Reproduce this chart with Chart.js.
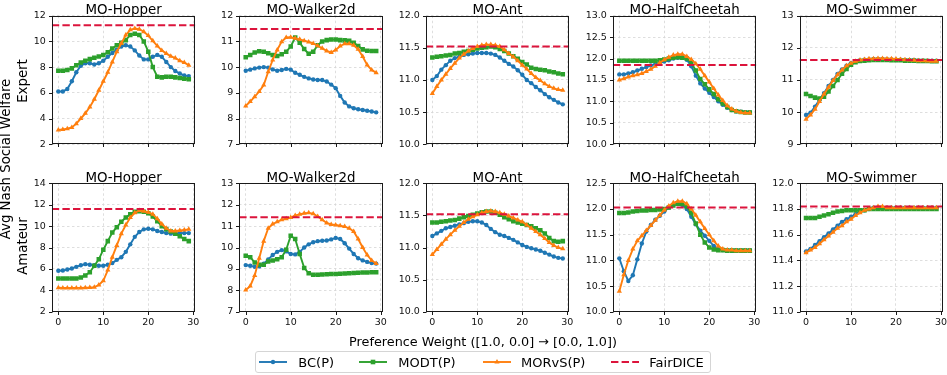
<!DOCTYPE html>
<html><head><meta charset="utf-8">
<script src="https://cdn.jsdelivr.net/npm/chart.js@4/dist/chart.umd.min.js"></script>
<style>
html,body{margin:0;padding:0;background:#fff;}
#fig{position:relative;width:947px;height:375px;overflow:hidden;background:#fff;font-family:"DejaVu Sans",sans-serif;color:#000;}
#fig canvas{position:absolute;}
.lab{position:absolute;white-space:nowrap;}
.rot{transform:translate(-50%,-50%) rotate(-90deg);}
</style></head>
<body><div id="fig"></div>
<script>
// ---------------- data ----------------
const steps = [0,1,2,3,4,5,6,7,8,9,10,11,12,13,14,15,16,17,18,19,20,21,22,23,24,25,26,27,28,29];
const envNames = ['MO-Hopper','MO-Walker2d','MO-Ant','MO-HalfCheetah','MO-Swimmer'];
const rowNames = ['Expert','Amateur'];
const seriesNames = ['BC(P)','MODT(P)','MORvS(P)','FairDICE'];
const xTicks = [0,10,20,30];

// Expert row
const hopperExpertBC    = [6.1,6.1,6.3,6.9,7.6,8.1,8.3,8.3,8.2,8.3,8.5,8.8,9.1,9.35,9.6,9.7,9.6,9.3,8.9,8.6,8.6,8.8,8.95,8.8,8.4,8.0,7.7,7.5,7.35,7.3];
const hopperExpertMODT  = [7.72,7.72,7.78,7.9,8.15,8.35,8.5,8.62,8.72,8.82,8.95,9.15,9.45,9.7,9.9,10.1,10.5,10.6,10.5,10.0,9.2,8.0,7.25,7.2,7.25,7.25,7.2,7.15,7.1,7.05];
const hopperExpertMORvS = [3.1,3.15,3.2,3.3,3.6,4.0,4.4,4.9,5.5,6.2,6.9,7.6,8.4,9.2,9.85,10.5,10.9,11.0,10.95,10.75,10.45,10.05,9.65,9.3,9.05,8.85,8.7,8.5,8.35,8.15];

const walkerExpertBC    = [9.86,9.9,9.95,9.98,10.0,9.98,9.91,9.86,9.89,9.93,9.9,9.78,9.7,9.62,9.56,9.52,9.5,9.5,9.44,9.32,9.18,8.88,8.62,8.47,8.4,8.36,8.33,8.3,8.27,8.24];
const walkerExpertMODT  = [10.38,10.47,10.57,10.62,10.6,10.54,10.47,10.43,10.5,10.6,10.8,11.15,10.95,10.7,10.52,10.6,10.85,11.0,11.05,11.07,11.07,11.05,11.04,11.02,10.95,10.82,10.69,10.64,10.63,10.63];
const walkerExpertMORvS = [8.49,8.66,8.85,9.05,9.3,9.82,10.28,10.67,10.99,11.15,11.16,11.12,11.08,11.03,10.98,10.92,10.83,10.73,10.63,10.57,10.67,10.82,10.91,10.91,10.85,10.69,10.41,10.08,9.89,9.78];

const antExpertBC    = [11.0,11.06,11.16,11.23,11.3,11.34,11.36,11.39,11.4,11.41,11.42,11.42,11.42,11.41,11.39,11.35,11.3,11.25,11.21,11.15,11.08,11.0,10.95,10.89,10.84,10.78,10.73,10.69,10.65,10.62];
const antExpertMODT  = [11.35,11.36,11.37,11.38,11.39,11.41,11.42,11.44,11.45,11.47,11.49,11.5,11.51,11.52,11.51,11.48,11.45,11.41,11.37,11.33,11.28,11.24,11.19,11.17,11.16,11.15,11.13,11.12,11.1,11.09];
const antExpertMORvS = [10.79,10.9,11.0,11.09,11.18,11.26,11.34,11.4,11.45,11.49,11.52,11.54,11.55,11.55,11.54,11.52,11.47,11.41,11.36,11.3,11.23,11.17,11.1,11.04,10.99,10.94,10.9,10.87,10.85,10.84];

const cheetahExpertBC    = [11.63,11.63,11.65,11.68,11.72,11.76,11.8,11.84,11.87,11.9,11.93,11.96,12.0,12.02,12.03,11.97,11.82,11.6,11.42,11.3,11.2,11.1,11.0,10.92,10.85,10.8,10.77,10.76,10.75,10.75];
const cheetahExpertMODT  = [11.95,11.95,11.95,11.95,11.95,11.95,11.95,11.95,11.95,11.96,11.98,12.0,12.02,12.03,12.02,12.0,11.9,11.72,11.52,11.4,11.28,11.17,11.05,10.95,10.87,10.8,10.77,10.75,10.74,10.74];
const cheetahExpertMORvS = [11.5,11.53,11.57,11.6,11.62,11.65,11.7,11.75,11.82,11.9,11.97,12.03,12.08,12.1,12.1,12.05,11.98,11.88,11.75,11.6,11.45,11.3,11.15,11.02,10.9,10.82,10.77,10.74,10.73,10.73];

const swimmerExpertBC    = [9.91,9.98,10.17,10.38,10.59,10.81,11.0,11.19,11.33,11.44,11.52,11.57,11.61,11.63,11.64,11.65,11.65,11.65,11.64,11.64,11.63,11.63,11.62,11.62,11.62,11.61,11.61,11.6,11.6,11.6];
const swimmerExpertMODT  = [10.56,10.5,10.45,10.42,10.48,10.64,10.81,11.0,11.19,11.34,11.47,11.55,11.59,11.6,11.61,11.62,11.62,11.62,11.62,11.61,11.61,11.61,11.6,11.6,11.6,11.59,11.59,11.59,11.58,11.58];
const swimmerExpertMORvS = [9.78,9.91,10.09,10.33,10.56,10.77,10.98,11.16,11.31,11.44,11.52,11.58,11.62,11.64,11.66,11.66,11.67,11.67,11.66,11.66,11.65,11.64,11.63,11.62,11.61,11.6,11.6,11.59,11.58,11.58];

// Amateur row
const hopperAmateurBC    = [5.84,5.85,5.95,6.05,6.2,6.35,6.45,6.4,6.35,6.3,6.3,6.4,6.55,6.85,7.1,7.6,8.3,9.0,9.45,9.7,9.75,9.7,9.55,9.45,9.35,9.3,9.3,9.35,9.35,9.35];
const hopperAmateurMODT  = [5.1,5.1,5.1,5.1,5.1,5.2,5.4,5.7,6.3,6.9,7.8,8.6,9.4,9.9,10.4,10.8,11.1,11.35,11.4,11.35,11.2,10.9,10.45,10.0,9.7,9.5,9.3,9.05,8.8,8.6];
const hopperAmateurMORvS = [4.25,4.22,4.22,4.22,4.23,4.23,4.25,4.27,4.3,4.5,4.9,5.9,7.1,8.2,9.3,10.1,10.8,11.25,11.45,11.4,11.3,11.1,10.7,10.2,9.8,9.55,9.55,9.6,9.65,9.7];

const walkerAmateurBC    = [9.18,9.15,9.1,9.12,9.25,9.45,9.65,9.8,9.88,9.82,9.7,9.68,9.8,10.0,10.15,10.25,10.3,10.32,10.33,10.38,10.45,10.4,10.2,9.95,9.7,9.5,9.4,9.33,9.28,9.25];
const walkerAmateurMODT  = [9.62,9.55,9.3,9.2,9.2,9.35,9.4,9.45,9.55,9.9,10.55,10.4,9.7,9.05,8.8,8.73,8.73,8.74,8.75,8.76,8.77,8.78,8.79,8.8,8.81,8.82,8.83,8.84,8.85,8.85];
const walkerAmateurMORvS = [8.02,8.2,8.7,9.5,10.3,10.9,11.1,11.2,11.3,11.35,11.4,11.5,11.55,11.6,11.62,11.58,11.45,11.3,11.15,11.08,11.05,11.02,10.98,10.9,10.75,10.4,10.0,9.65,9.4,9.25];

const antAmateurBC    = [11.18,11.22,11.26,11.3,11.32,11.34,11.36,11.38,11.4,11.41,11.41,11.39,11.35,11.29,11.24,11.2,11.18,11.15,11.12,11.08,11.04,11.01,10.99,10.97,10.95,10.92,10.89,10.86,10.84,10.83];
const antAmateurMODT  = [11.39,11.39,11.4,11.41,11.42,11.43,11.45,11.47,11.49,11.51,11.53,11.55,11.56,11.56,11.54,11.51,11.47,11.44,11.41,11.39,11.37,11.35,11.33,11.3,11.27,11.22,11.15,11.1,11.09,11.1];
const antAmateurMORvS = [10.89,10.97,11.05,11.13,11.2,11.27,11.33,11.39,11.44,11.48,11.51,11.54,11.56,11.57,11.56,11.54,11.52,11.49,11.46,11.43,11.4,11.35,11.3,11.25,11.2,11.14,11.08,11.03,11.0,10.98];

const cheetahAmateurBC    = [11.04,10.79,10.6,10.71,11.02,11.33,11.56,11.69,11.79,11.87,11.95,12.03,12.08,12.1,12.08,12.0,11.85,11.7,11.58,11.48,11.38,11.28,11.22,11.2,11.2,11.2,11.2,11.2,11.2,11.2];
const cheetahAmateurMODT  = [11.92,11.92,11.93,11.95,11.96,11.97,11.97,11.98,11.98,11.99,12.0,12.03,12.07,12.1,12.1,12.05,11.92,11.72,11.5,11.35,11.25,11.21,11.2,11.2,11.19,11.19,11.19,11.19,11.19,11.19];
const cheetahAmateurMORvS = [10.4,10.72,11.0,11.22,11.38,11.48,11.58,11.68,11.78,11.88,11.98,12.06,12.12,12.15,12.15,12.1,12.0,11.88,11.75,11.62,11.5,11.38,11.28,11.22,11.2,11.2,11.19,11.19,11.19,11.19];

const swimmerAmateurBC    = [11.47,11.49,11.52,11.55,11.58,11.61,11.64,11.67,11.7,11.72,11.74,11.76,11.78,11.79,11.8,11.81,11.81,11.81,11.81,11.81,11.81,11.81,11.81,11.81,11.81,11.81,11.81,11.81,11.81,11.81];
const swimmerAmateurMODT  = [11.73,11.73,11.73,11.74,11.75,11.76,11.77,11.78,11.785,11.79,11.79,11.79,11.79,11.79,11.8,11.8,11.8,11.8,11.8,11.8,11.8,11.8,11.8,11.8,11.8,11.8,11.8,11.8,11.8,11.8];
const swimmerAmateurMORvS = [11.46,11.48,11.5,11.53,11.56,11.59,11.62,11.65,11.67,11.7,11.72,11.75,11.77,11.79,11.8,11.81,11.82,11.82,11.81,11.81,11.81,11.81,11.81,11.81,11.81,11.81,11.81,11.81,11.81,11.81];

const fairdiceExpert  = [11.25, 11.48, 11.52, 11.85, 11.62];
const fairdiceAmateur = [11.6, 11.42, 11.52, 12.03, 11.82];

const yTicksExpert  = [[2,4,6,8,10,12],[7,8,9,10,11,12],[10,10.5,11,11.5,12],[10,10.5,11,11.5,12,12.5,13],[9,10,11,12,13]];
const yTicksAmateur = [[2,4,6,8,10,12,14],[7,8,9,10,11,12,13],[10,10.5,11,11.5,12],[10,10.5,11,11.5,12,12.5],[11,11.2,11.4,11.6,11.8,12]];

// ---------------- layout & style ----------------
const BLUE='#1f77b4', GREEN='#2ca02c', ORANGE='#ff7f0e', RED='#dc143c';
const PLOT_LEFT = [51.8, 239.2, 425.8, 612.8, 799.5];
const PLOT_W = 143.5, PLOT_H = 128.5;
const PLOT_TOP = [15.7, 183.3];
const CANVAS_TOP = [-12, 150];
const X_MIN = -1.45, X_MAX = 30.45;
const TITLE_SIZE = 13.4, TITLE_LH = 0.72, TITLE_PAD_T = 4, TITLE_PAD_B = 0;
const XAX_H = 20;
const TICK_SIZE = 9.5;

Chart.defaults.font.family = '"DejaVu Sans", sans-serif';
Chart.defaults.color = '#111';

const framePlugin = {
  id: 'frame',
  afterDraw(chart) {
    const {ctx, chartArea: a, scales} = chart;
    ctx.save();
    ctx.setLineDash([]);
    ctx.strokeStyle = '#1a1a1a';
    ctx.lineWidth = 1;
    const l = Math.round(a.left) + 0.5, r = Math.round(a.right) - 0.5;
    const t = Math.round(a.top) + 0.5, b = Math.round(a.bottom) - 0.5;
    ctx.strokeRect(l, t, r - l, b - t);
    ctx.beginPath();
    scales.x.ticks.forEach(tk => { const p = Math.round(scales.x.getPixelForValue(tk.value)) + 0.5; ctx.moveTo(p, b); ctx.lineTo(p, b + 3.5); });
    scales.y.ticks.forEach(tk => { const p = Math.round(scales.y.getPixelForValue(tk.value)) + 0.5; ctx.moveTo(l, p); ctx.lineTo(l - 3.5, p); });
    ctx.stroke();
    ctx.restore();
  }
};

const fig = document.getElementById('fig');
const toXY = arr => arr.map((v, i) => ({x: steps[i], y: v}));

const grid = [
  [[hopperExpertBC,hopperExpertMODT,hopperExpertMORvS],[walkerExpertBC,walkerExpertMODT,walkerExpertMORvS],[antExpertBC,antExpertMODT,antExpertMORvS],[cheetahExpertBC,cheetahExpertMODT,cheetahExpertMORvS],[swimmerExpertBC,swimmerExpertMODT,swimmerExpertMORvS]],
  [[hopperAmateurBC,hopperAmateurMODT,hopperAmateurMORvS],[walkerAmateurBC,walkerAmateurMODT,walkerAmateurMORvS],[antAmateurBC,antAmateurMODT,antAmateurMORvS],[cheetahAmateurBC,cheetahAmateurMODT,cheetahAmateurMORvS],[swimmerAmateurBC,swimmerAmateurMODT,swimmerAmateurMORvS]]
];
const fair = [fairdiceExpert, fairdiceAmateur];
const yTicks = [yTicksExpert, yTicksAmateur];

for (let r = 0; r < 2; r++) {
  for (let c = 0; c < 5; c++) {
    const pl = PLOT_LEFT[c];
    const CL = Math.floor(pl - 45);
    const yAxisW = pl - CL;
    const W = Math.ceil(pl + PLOT_W + 12) - CL;
    const padR = CL + W - (pl + PLOT_W);
    const CT = CANVAS_TOP[r];
    const H = 190;
    const padT = PLOT_TOP[r] - CT - (TITLE_SIZE * TITLE_LH + TITLE_PAD_T + TITLE_PAD_B);
    const padB = H - XAX_H - (PLOT_TOP[r] + PLOT_H - CT);
    const cv = document.createElement('canvas');
    cv.width = W; cv.height = H;
    cv.style.left = CL + 'px'; cv.style.top = CT + 'px';
    cv.style.width = W + 'px'; cv.style.height = H + 'px';
    fig.appendChild(cv);
    const [bc, modt, morvs] = grid[r][c];
    const yt = yTicks[r][c];
    const dec = yt.some(v => !Number.isInteger(v)) ? 1 : 0;
    const fd = fair[r][c];
    new Chart(cv, {
      type: 'line',
      data: { datasets: [
        { label: seriesNames[0], data: toXY(bc), borderColor: BLUE, backgroundColor: BLUE, borderWidth: 1.9,
          pointStyle: 'circle', pointRadius: 2.2, pointBorderWidth: 0, pointBackgroundColor: BLUE, order: 3 },
        { label: seriesNames[1], data: toXY(modt), borderColor: GREEN, backgroundColor: GREEN, borderWidth: 1.9,
          pointStyle: 'rect', pointRadius: 3.2, pointBorderWidth: 0, pointBackgroundColor: GREEN, order: 2 },
        { label: seriesNames[2], data: toXY(morvs), borderColor: ORANGE, backgroundColor: ORANGE, borderWidth: 1.9,
          pointStyle: 'triangle', pointRadius: 3, pointBorderWidth: 0, pointBackgroundColor: ORANGE, order: 1 },
        { label: seriesNames[3], data: [{x: X_MIN, y: fd}, {x: X_MAX, y: fd}], borderColor: RED, borderWidth: 2,
          borderDash: [7.4, 3.2], pointRadius: 0, order: 0 }
      ]},
      options: {
        responsive: false, animation: false, devicePixelRatio: 1,
        layout: { padding: { left: 0, right: padR, top: padT, bottom: padB } },
        plugins: {
          legend: { display: false }, tooltip: { enabled: false },
          title: { display: true, text: envNames[c], fullSize: false, color: '#000',
                   font: { size: TITLE_SIZE, lineHeight: TITLE_LH, weight: 'normal' }, padding: { top: TITLE_PAD_T, bottom: TITLE_PAD_B } }
        },
        scales: {
          x: { type: 'linear', min: X_MIN, max: X_MAX,
               afterBuildTicks: s => { s.ticks = xTicks.map(v => ({value: v})); },
               afterFit: s => { s.height = XAX_H; },
               ticks: { display: r === 1, padding: 5, font: { size: TICK_SIZE }, color: '#111', autoSkip: false, maxRotation: 0, callback: v => String(v) },
               grid: { color: '#d6d6d6', lineWidth: 0.8, drawTicks: false },
               border: { display: false, dash: [2.5, 2.5] } },
          y: { type: 'linear', min: yt[0], max: yt[yt.length - 1],
               afterBuildTicks: s => { s.ticks = yt.map(v => ({value: v})); },
               afterFit: s => { s.width = yAxisW; },
               ticks: { padding: 6, font: { size: TICK_SIZE }, color: '#111', autoSkip: false, callback: v => Number(v).toFixed(dec) },
               grid: { color: '#d6d6d6', lineWidth: 0.8, drawTicks: false },
               border: { display: false, dash: [2.5, 2.5] } }
        }
      },
      plugins: [framePlugin]
    });
  }
}

// ---------------- figure-level text ----------------
function addLabel(text, css, cls) {
  const d = document.createElement('div');
  d.className = 'lab' + (cls ? ' ' + cls : '');
  d.textContent = text;
  Object.assign(d.style, css);
  fig.appendChild(d);
  return d;
}
addLabel('Avg Nash Social Welfare', { left: '6px', top: '159px', fontSize: '13.3px', lineHeight: '13.3px' }, 'rot');
addLabel(rowNames[0], { left: '22.5px', top: '81px', fontSize: '13.3px', lineHeight: '13.3px' }, 'rot');
addLabel(rowNames[1], { left: '22.5px', top: '246px', fontSize: '13.3px', lineHeight: '13.3px' }, 'rot');
addLabel('Preference Weight ([1.0, 0.0] \u2192 [0.0, 1.0])', { left: '483px', top: '334.7px', fontSize: '12.8px', lineHeight: '13px', transform: 'translateX(-50%)' });

// legend
const lg = document.createElement('div');
Object.assign(lg.style, { position: 'absolute', left: '255px', top: '351px', width: '456px', height: '22px',
  border: '1px solid #d5d5d5', borderRadius: '3px', boxSizing: 'border-box', background: '#fff' });
fig.appendChild(lg);
const legendItems = [
  { name: seriesNames[0], color: BLUE, marker: 'circle', lx: 259, tx: 298.3 },
  { name: seriesNames[1], color: GREEN, marker: 'square', lx: 359.3, tx: 398.3 },
  { name: seriesNames[2], color: ORANGE, marker: 'triangle', lx: 483, tx: 521 },
  { name: seriesNames[3], color: RED, marker: 'dash', lx: 610.5, tx: 649.3 }
];
legendItems.forEach(it => {
  const ns = 'http://www.w3.org/2000/svg';
  const svg = document.createElementNS(ns, 'svg');
  svg.setAttribute('width', '28'); svg.setAttribute('height', '10');
  Object.assign(svg.style, { position: 'absolute', left: it.lx + 'px', top: '356.7px' });
  const ln = document.createElementNS(ns, 'line');
  ln.setAttribute('x1', '0'); ln.setAttribute('x2', '28'); ln.setAttribute('y1', '5'); ln.setAttribute('y2', '5');
  ln.setAttribute('stroke', it.color);
  ln.setAttribute('stroke-width', it.marker === 'dash' ? '2' : '1.9');
  if (it.marker === 'dash') ln.setAttribute('stroke-dasharray', '7.4 3.2');
  svg.appendChild(ln);
  let m = null;
  if (it.marker === 'circle') { m = document.createElementNS(ns, 'circle'); m.setAttribute('cx', '14'); m.setAttribute('cy', '5'); m.setAttribute('r', '2.2'); }
  if (it.marker === 'square') { m = document.createElementNS(ns, 'rect'); m.setAttribute('x', '11.7'); m.setAttribute('y', '2.7'); m.setAttribute('width', '4.6'); m.setAttribute('height', '4.6'); }
  if (it.marker === 'triangle') { m = document.createElementNS(ns, 'polygon'); m.setAttribute('points', '14,2 16.6,6.5 11.4,6.5'); }
  if (m) { m.setAttribute('fill', it.color); svg.appendChild(m); }
  fig.appendChild(svg);
  addLabel(it.name, { left: it.tx + 'px', top: '355.7px', fontSize: '13px', lineHeight: '13px' });
});
</script>
</body></html>
